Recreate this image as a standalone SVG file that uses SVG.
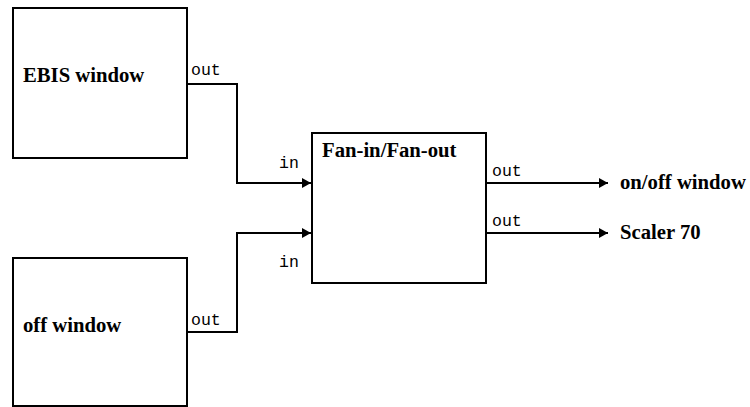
<svg xmlns="http://www.w3.org/2000/svg" width="750" height="407" viewBox="0 0 750 407">
  <style>
    .box { fill: #ffffff; stroke: #000000; stroke-width: 2; }
    .title { font-family: "Liberation Serif", "Times New Roman", serif; font-weight: bold; font-size: 20.7px; fill: #000000; }
    .port { font-family: "Liberation Mono", "Courier New", monospace; font-size: 16.5px; fill: #000000; }
    .wire { fill: none; stroke: #000000; stroke-width: 2; }
  </style>
  <defs>
    <marker id="arrow" markerUnits="userSpaceOnUse" markerWidth="10" markerHeight="12" refX="9" refY="6" orient="auto">
      <path d="M0,1 L9,6 L0,11 Z" fill="#000000"/>
    </marker>
  </defs>
  <rect width="750" height="407" fill="#ffffff"/>

  <!-- source blocks -->
  <g id="ebis-window">
    <rect class="box" x="13" y="8" width="174" height="150"/>
    <text class="title" x="23" y="82">EBIS window</text>
    <text class="port" x="191" y="75">out</text>
  </g>

  <g id="off-window">
    <rect class="box" x="13" y="258" width="174" height="148"/>
    <text class="title" x="23" y="332">off window</text>
    <text class="port" x="191" y="325">out</text>
  </g>

  <!-- fan-in / fan-out unit with its ports -->
  <g id="fan-in-fan-out">
    <rect class="box" x="312" y="133" width="174" height="150"/>
    <text class="title" x="322" y="157">Fan-in/Fan-out</text>
    <text class="port" x="279" y="168">in</text>
    <text class="port" x="279" y="267">in</text>
    <text class="port" x="492" y="176">out</text>
    <text class="port" x="492" y="226">out</text>
  </g>

  <!-- destinations -->
  <g id="on-off-window">
    <text class="title" x="620" y="189">on/off window</text>
  </g>

  <g id="scaler-70">
    <text class="title" x="620" y="239">Scaler 70</text>
  </g>

  <g id="connectors">
    <path class="wire" d="M187,84 H237 V183 H311" marker-end="url(#arrow)"/>
    <path class="wire" d="M187,332 H237 V233 H311" marker-end="url(#arrow)"/>
    <path class="wire" d="M486,183 H608" marker-end="url(#arrow)"/>
    <path class="wire" d="M486,233 H608" marker-end="url(#arrow)"/>
  </g>
</svg>
